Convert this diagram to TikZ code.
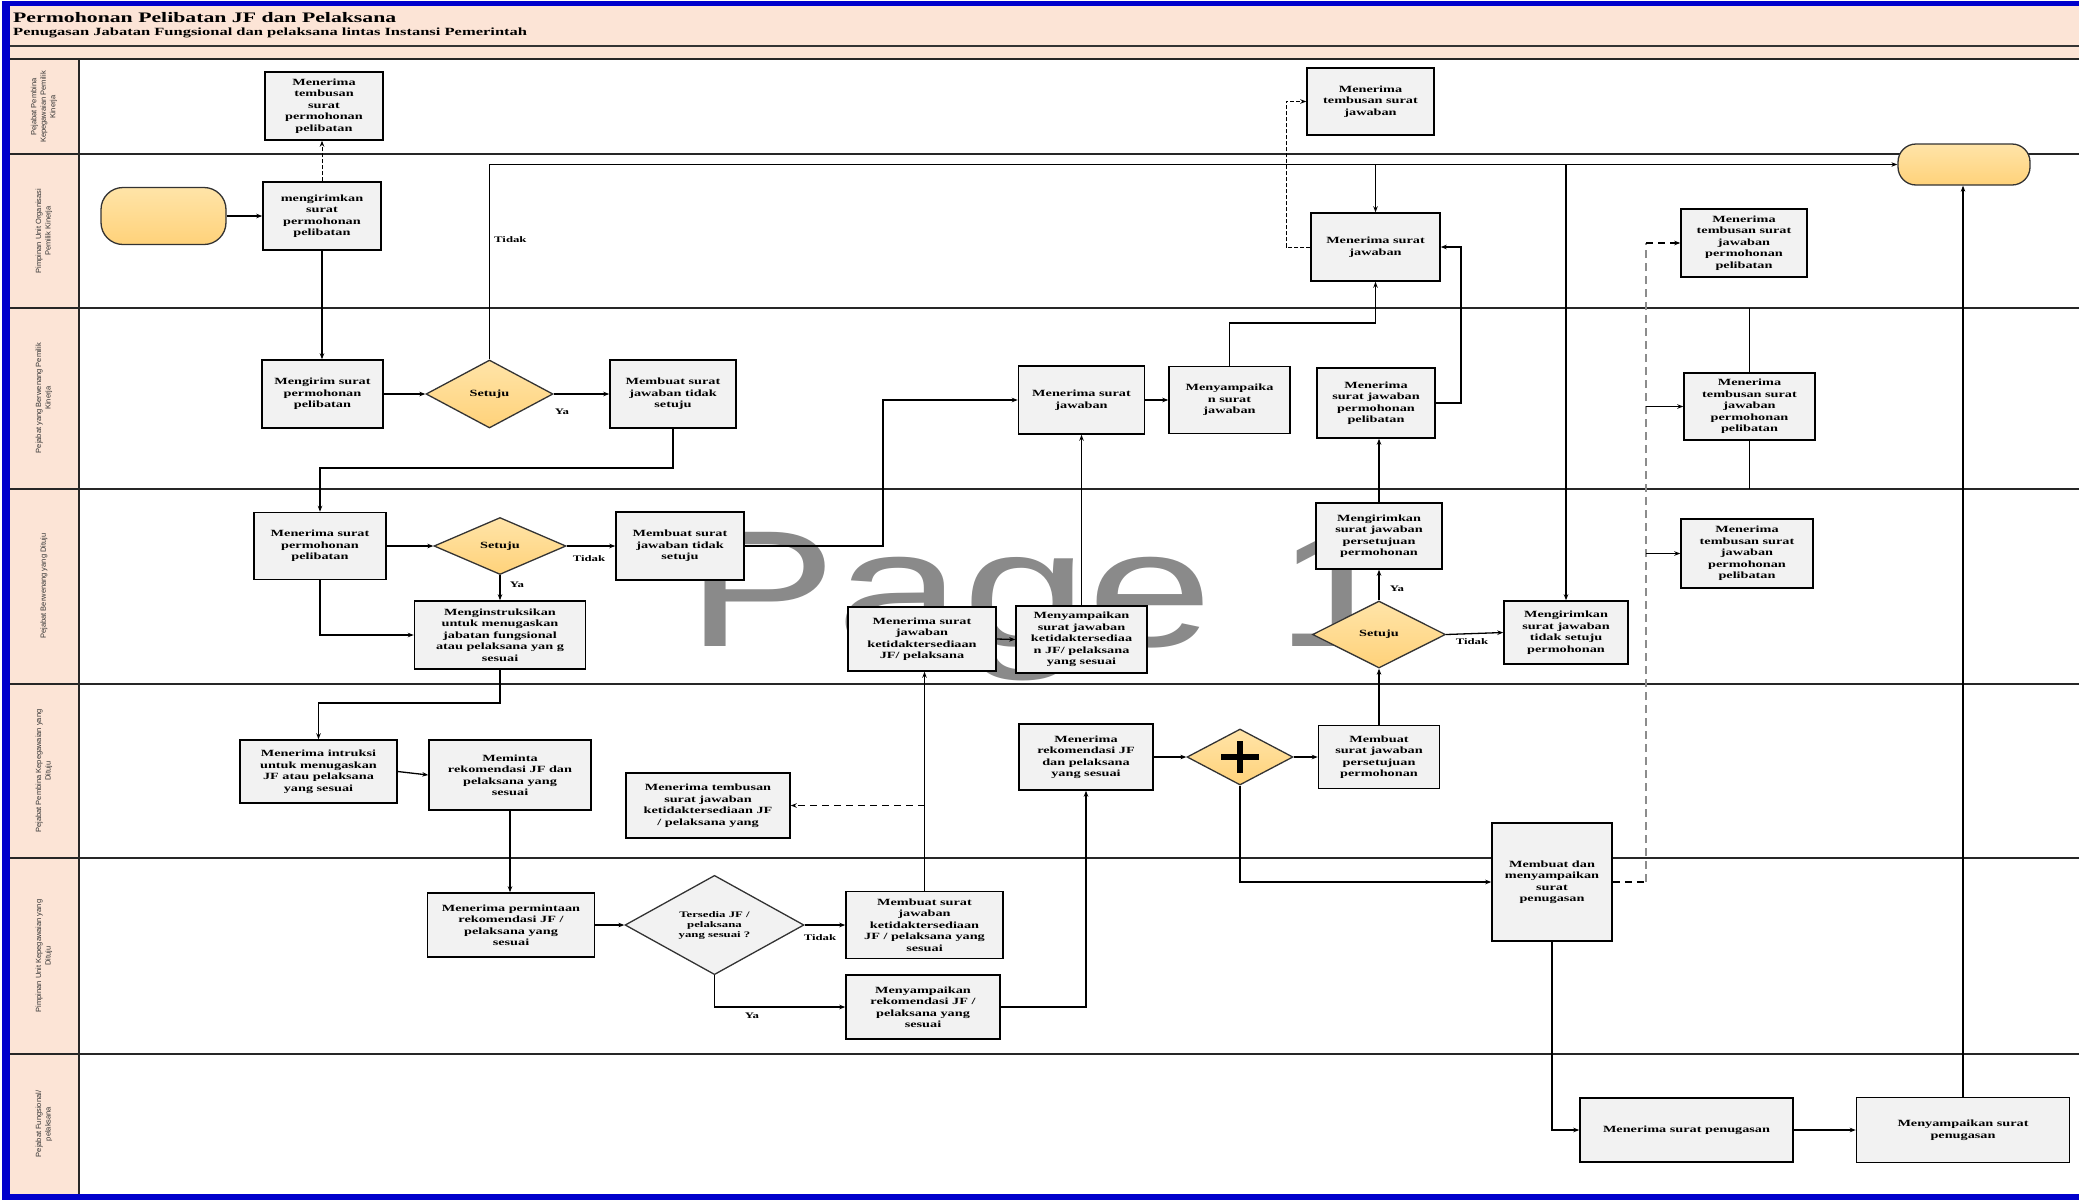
\documentclass[tikz,border=0pt]{standalone}
\usepackage{fontspec}
\setmainfont{Liberation Serif}[FakeStretch=1.5]
\newfontfamily\markfont{Liberation Sans}[FakeStretch=1.36]
\newfontfamily\lanefont{Liberation Sans}
\usetikzlibrary{arrows.meta,shapes.geometric}

\definecolor{frameblue}{HTML}{0000CC}
\definecolor{headpeach}{HTML}{FCE4D6}
\definecolor{boxgrey}{HTML}{F2F2F2}
\definecolor{goldtop}{HTML}{FFE4A8}
\definecolor{goldbot}{HTML}{FFD27A}
\definecolor{markgrey}{HTML}{8A8A8A}

\tikzset{
  task/.style={draw=black, line width=1.5pt, fill=boxgrey, align=center, inner sep=1pt,
    font=\fontsize{9.5}{11.5}\selectfont\bfseries},
  gate/.style={diamond, draw=black!80, line width=1.3pt, top color=goldtop, bottom color=goldbot,
    inner sep=0pt, align=center, font=\fontsize{9.5}{11.5}\selectfont\bfseries},
  term/.style={draw=black!80, line width=1.3pt, rounded corners=22pt, top color=goldtop, bottom color=goldbot},
  flow/.style={draw=black, line width=1.3pt, -{Stealth[length=6pt,width=4.5pt]}},
  link/.style={draw=black, line width=1.3pt},
  cc/.style={flow, dash pattern=on 7pt off 5pt},
  ccthin/.style={flow, line width=0.9pt, dash pattern=on 4pt off 2pt},
  ccgrey/.style={draw=black!45, line width=2.6pt, dash pattern=on 8pt off 5pt},
  lbl/.style={font=\fontsize{8.5}{10}\selectfont\bfseries, inner sep=0pt},
  lane/.style={draw=black!85, line width=1.6pt},
  lanetext/.style={rotate=90, align=center, inner sep=0pt,
    font=\lanefont\fontsize{7.5}{9.5}\selectfont, text=black!80},
}

\begin{document}
\begin{tikzpicture}[x=1pt, y=-1pt]
\useasboundingbox (0,0) rectangle (2079,1203);

% ---------- frame and header ----------
\fill[white] (0,0) rectangle (2079,1203);
\fill[headpeach] (10,6) rectangle (2079,59);
\fill[headpeach] (10,59) rectangle (79,1194);
\fill[frameblue] (2,1) rectangle (2079,6);
\fill[frameblue] (2,1) rectangle (10,1200);
\fill[frameblue] (2,1194) rectangle (2079,1200);
\draw[draw=black!80, line width=1.6pt] (10,46) -- (2079,46);

\node[anchor=west, inner sep=0pt, font=\fontsize{14.5}{16}\selectfont\bfseries] (title) at (13,18)
  {Permohonan Pelibatan JF dan Pelaksana};
\node[anchor=west, inner sep=0pt, font=\fontsize{11}{12}\selectfont\bfseries] (subtitle) at (13,33)
  {Penugasan Jabatan Fungsional dan pelaksana lintas Instansi Pemerintah};

% ---------- swimlanes ----------
\foreach \yy in {59,154,308,489,684,858,1054}
  \draw[lane] (10,\yy) -- (2079,\yy);
\draw[lane] (79,59) -- (79,1194);

\node[lanetext] (lane1) at (44,107) {Pejabat Pembina\\Kepegawaian Pemilik\\Kinerja};
\node[lanetext] (lane2) at (44,231) {Pimpinan Unit Organisasi\\Pemilik Kinerja};
\node[lanetext] (lane3) at (44,398) {Pejabat yang Berwenang Pemilik\\Kinerja};
\node[lanetext] (lane4) at (44,586) {Pejabat Berwenang yang Dituju};
\node[lanetext] (lane5) at (44,771) {Pejabat Pembina Kepegawaian yang\\Dituju};
\node[lanetext] (lane6) at (44,956) {Pimpinan Unit Kepegawaian yang\\Dituju};
\node[lanetext] (lane7) at (44,1124) {Pejabat Fungsional/\\pelaksana};

% ---------- page mark ----------
\node[anchor=base west, inner sep=0pt, text=markgrey] (pagemark) at (686,646)
  {\markfont\fontsize{166}{166}\selectfont Page 1};

% ---------- level coordinates for bends ----------
\coordinate (r1) at (0,468);
\coordinate (r3) at (0,323);
\coordinate (r5) at (0,703);
\coordinate (l23) at (0,308);
\coordinate (l34) at (0,489);
\coordinate (v1) at (883,0);
\coordinate (v2) at (1461,0);
\coordinate (v3) at (1286,0);
\coordinate (busx) at (1646,0);

% ---------- nodes ----------
\node[term, minimum width=125pt, minimum height=57pt] (start) at (163.5,216) {};
\node[task, minimum width=118pt, minimum height=68pt] (A1) at (324,106)
  {Menerima\\tembusan\\surat\\permohonan\\pelibatan};
\node[task, minimum width=118pt, minimum height=68pt] (B1) at (322,216)
  {mengirimkan\\surat\\permohonan\\pelibatan};
\node[task, minimum width=121pt, minimum height=68pt] (C1) at (322.5,394)
  {Mengirim surat\\permohonan\\pelibatan};
\node[gate, minimum width=127pt, minimum height=68pt] (Q1) at (489.5,394) {Setuju};
\node[task, minimum width=126pt, minimum height=68pt] (C2) at (673,394)
  {Membuat surat\\jawaban tidak\\setuju};

\node[task, minimum width=132pt, minimum height=67pt] (D1) at (320,546)
  {Menerima surat\\permohonan\\pelibatan};
\node[gate, minimum width=132pt, minimum height=57pt] (Q2) at (500,546) {Setuju};
\node[task, minimum width=128pt, minimum height=68pt] (D3) at (680,546)
  {Membuat surat\\jawaban tidak\\setuju};
\node[task, minimum width=171pt, minimum height=68pt] (D4) at (500,635)
  {Menginstruksikan\\untuk menugaskan\\jabatan fungsional\\atau pelaksana yan g\\sesuai};
\node[task, minimum width=148pt, minimum height=64pt] (D5) at (922,639)
  {Menerima surat\\jawaban\\ketidaktersediaan\\JF/ pelaksana};
\node[task, minimum width=131pt, minimum height=67pt] (D6) at (1081.5,639.5)
  {Menyampaikan\\surat jawaban\\ketidaktersediaa\\n JF/ pelaksana\\yang sesuai};
\node[task, minimum width=126pt, minimum height=66pt] (D7) at (1379,536)
  {Mengirimkan\\surat jawaban\\persetujuan\\permohonan};
\node[gate, minimum width=133pt, minimum height=67pt] (Q3) at (1379,634.5) {Setuju};
\node[task, minimum width=124pt, minimum height=63pt] (D9) at (1566,632.5)
  {Mengirimkan\\surat jawaban\\tidak setuju\\permohonan};

\node[task, minimum width=126pt, minimum height=68pt] (E1) at (1081.5,400)
  {Menerima surat\\jawaban};
\node[task, minimum width=121pt, minimum height=67pt] (E2) at (1229.5,400)
  {Menyampaika\\n surat\\jawaban};
\node[task, minimum width=129pt, minimum height=68pt] (E3) at (1375.5,247)
  {Menerima surat\\jawaban};
\node[task, minimum width=127pt, minimum height=67pt] (A2) at (1370.5,101.5)
  {Menerima\\tembusan surat\\jawaban};
\node[task, minimum width=118pt, minimum height=70pt] (F1) at (1376,403)
  {Menerima\\surat jawaban\\permohonan\\pelibatan};

\node[term, minimum width=132pt, minimum height=41pt, rounded corners=18pt] (stop) at (1964,164.5) {};
\node[task, minimum width=126pt, minimum height=68pt] (G1) at (1744,243)
  {Menerima\\tembusan surat\\jawaban\\permohonan\\pelibatan};
\node[task, minimum width=131pt, minimum height=67pt] (G2) at (1749.5,406.5)
  {Menerima\\tembusan surat\\jawaban\\permohonan\\pelibatan};
\node[task, minimum width=132pt, minimum height=69pt] (G3) at (1747,553.5)
  {Menerima\\tembusan surat\\jawaban\\permohonan\\pelibatan};

\node[task, minimum width=157pt, minimum height=63pt] (H1) at (318.5,771.5)
  {Menerima intruksi\\untuk menugaskan\\JF atau pelaksana\\yang sesuai};
\node[task, minimum width=162pt, minimum height=70pt] (H2) at (510,775)
  {Meminta\\rekomendasi JF dan\\pelaksana yang\\sesuai};
\node[task, minimum width=164pt, minimum height=65pt] (H3) at (708,805.5)
  {Menerima tembusan\\surat jawaban\\ketidaktersediaan JF\\/ pelaksana yang};
\node[task, minimum width=134pt, minimum height=66pt] (H4) at (1086,757)
  {Menerima\\rekomendasi JF\\dan pelaksana\\yang sesuai};
\node[gate, minimum width=106pt, minimum height=56pt] (P1) at (1240,757) {};
\node[task, minimum width=121pt, minimum height=63pt] (H5) at (1379,757)
  {Membuat\\surat jawaban\\persetujuan\\permohonan};
\node[task, minimum width=120pt, minimum height=118pt] (I5) at (1552,882)
  {Membuat dan\\menyampaikan\\surat\\penugasan};

\node[task, minimum width=167pt, minimum height=64pt] (I1) at (511,925)
  {Menerima permintaan\\rekomendasi JF /\\pelaksana yang\\sesuai};
\node[gate, fill=boxgrey, top color=boxgrey, bottom color=boxgrey, minimum width=179pt, minimum height=82pt,
  font=\fontsize{8.5}{10}\selectfont\bfseries] (Q4) at (714.5,925)
  {Tersedia JF /\\pelaksana\\yang sesuai ?};
\node[task, minimum width=157pt, minimum height=67pt] (I3) at (924.5,925)
  {Membuat surat\\jawaban\\ketidaktersediaan\\JF / pelaksana yang\\sesuai};
\node[task, minimum width=154pt, minimum height=64pt] (I4) at (923,1007)
  {Menyampaikan\\rekomendasi JF /\\pelaksana yang\\sesuai};

\node[task, minimum width=213pt, minimum height=64pt] (J1) at (1686.5,1130)
  {Menerima surat penugasan};
\node[task, minimum width=213pt, minimum height=65pt] (J2) at (1963,1130)
  {Menyampaikan surat\\penugasan};

% parallel gateway mark
\draw[line width=6pt] ([xshift=-19pt]P1.center) -- ([xshift=19pt]P1.center);
\draw[line width=6pt] ([yshift=-16pt]P1.center) -- ([yshift=16pt]P1.center);

% ---------- connectors ----------
\draw[flow] (start.east) -- (B1.west);
\draw[ccthin] (B1.north) -- (B1.north |- A1.south);
\draw[flow] (B1.south) -- (B1.south |- C1.north);
\draw[flow] (C1.east) -- (Q1.west);
\draw[flow] (Q1.east) -- (C2.west);
\draw[flow] (Q1.north) |- (stop.west);
\draw[flow] (C2.south) -- (C2.south |- r1) -| (D1.north);

\draw[flow] (D1.east) -- (Q2.west);
\draw[flow] (Q2.east) -- (D3.west);
\draw[flow] (Q2.south) -- (D4.north);
\draw[flow] (D1.south) |- (D4.west);
\draw[flow] (D3.east) -- (D3.east -| v1) |- (E1.west);
\draw[flow] (E1.east) -- (E2.west);
\draw[flow] (E2.north) -- (E2.north |- r3) -| (E3.south);
\draw[flow] (E3.north |- stop.west) -- (E3.north);
\draw[ccthin] (E3.west) -- (E3.west -| v3) |- (A2.west);
\draw[flow] (F1.east) -- (F1.east -| v2) |- (E3.east);
\draw[flow] (D7.north) -- (D7.north |- F1.south);
\draw[flow] (Q3.north) -- (D7.south);
\draw[flow] (Q3.east) -- (D9.west);
\draw[flow] (D9.north |- stop.west) -- (D9.north);
\draw[flow] (D5.east) -- (D6.west);
\draw[flow] (D6.north) -- (D6.north |- E1.south);

\draw[flow] (D4.south) -- (D4.south |- r5) -| (H1.north);
\draw[flow] (H1.east) -- (H2.west);
\draw[flow] (H2.south) -- (H2.south |- I1.north);
\draw[flow] (H4.east) -- (P1.west);
\draw[flow] (P1.east) -- (H5.west);
\draw[flow] (H5.north) -- (Q3.south);
\draw[flow] (P1.south) |- (I5.west);

\draw[flow] (I1.east) -- (Q4.west);
\draw[flow] (Q4.east) -- (I3.west);
\draw[flow] (Q4.south) |- (I4.west);
\draw[flow] (I3.north) -- (I3.north |- D5.south);
\draw[cc] (I3.north |- H3.east) -- (H3.east);
\draw[flow] (I4.east) -| (H4.south);

\draw[link, dash pattern=on 7pt off 5pt] (I5.east) -- (I5.east -| busx);
\draw[ccgrey] (I5.east -| busx) -- (G1.west -| busx);
\draw[cc] (G1.west -| busx) -- (G1.west);
\draw[flow] (G2.west -| busx) -- (G2.west);
\draw[flow] (G3.west -| busx) -- (G3.west);
\draw[link] (G2.north) -- (G2.north |- l23);
\draw[link] (G2.south) -- (G2.south |- l34);

\draw[flow] (I5.south) |- (J1.west);
\draw[flow] (J1.east) -- (J2.west);
\draw[flow] (J2.north) -- (J2.north |- stop.south);

% ---------- branch labels ----------
\node[lbl, anchor=west] (t1) at (494,240) {Tidak};
\node[lbl] (y1) at (562,412) {Ya};
\node[lbl] (t2) at (589,559) {Tidak};
\node[lbl] (y2) at (517,585) {Ya};
\node[lbl] (y3) at (1397,589) {Ya};
\node[lbl] (t3) at (1472,642) {Tidak};
\node[lbl] (t4) at (820,938) {Tidak};
\node[lbl] (y4) at (752,1016) {Ya};
\end{tikzpicture}
\end{document}
